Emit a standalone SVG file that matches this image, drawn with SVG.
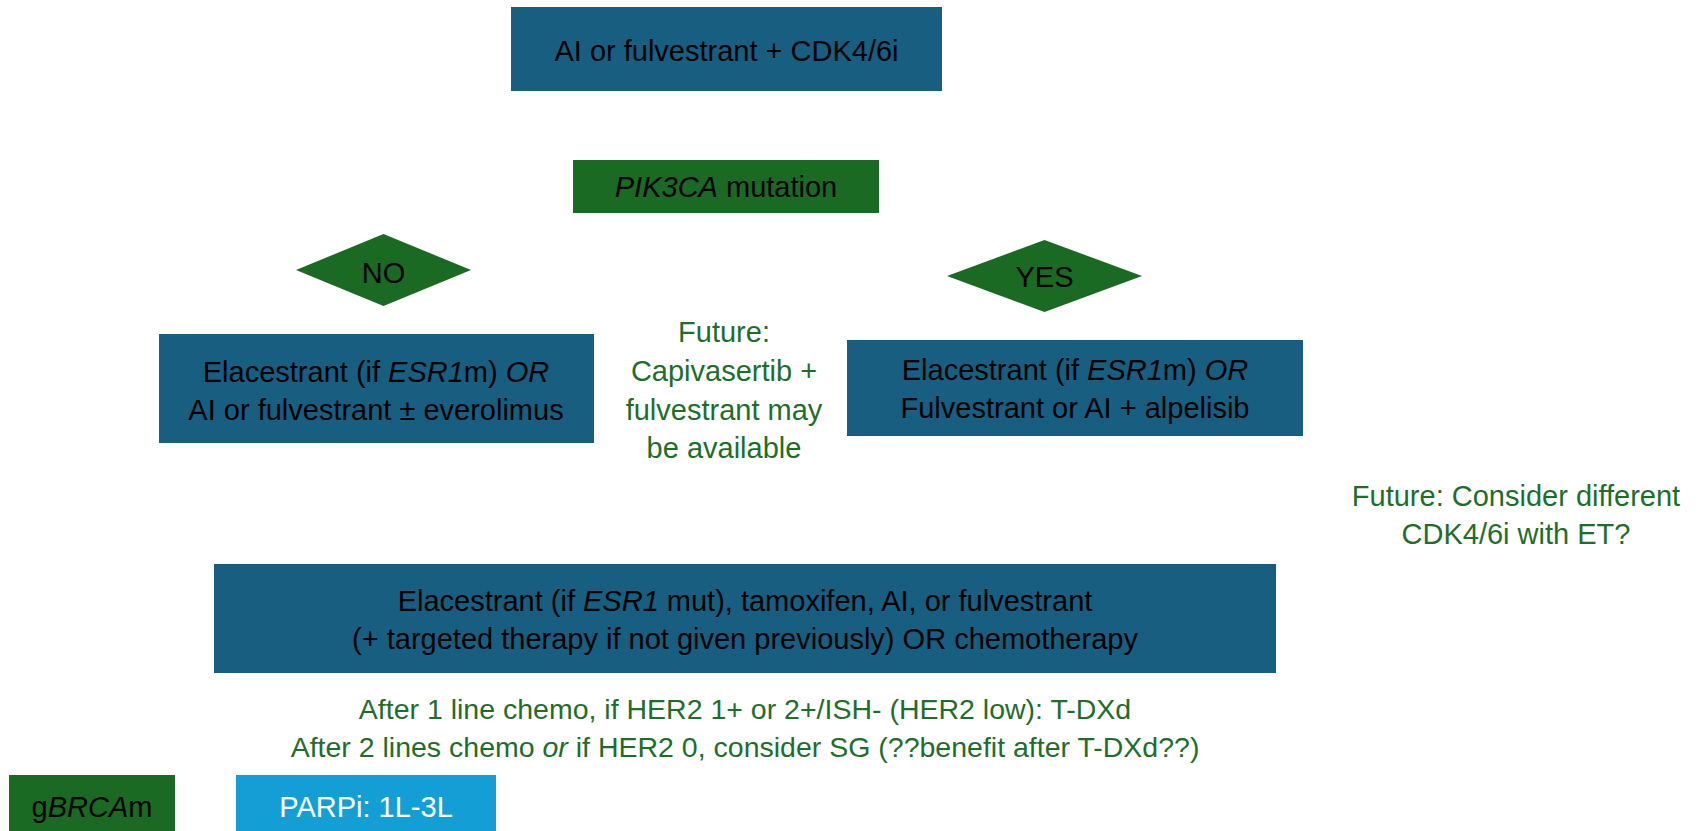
<svg xmlns="http://www.w3.org/2000/svg" width="1706" height="831" viewBox="0 0 1706 831">
  <style>
    text { font-family: "Liberation Sans", Arial, sans-serif; font-size: 29px; text-anchor: middle; }
    .box { fill: #175E80; }
    .dec { fill: #1B6A24; }
    .parp { fill: #139FD6; }
    .dark { fill: #000000; }
    .note { fill: #1E6E2A; }
    .small { font-size: 28.5px; }
    .light { fill: #FFFFFF; }
    .it { font-style: italic; }
    .tip { fill: #FFFFFF; }
  </style>

  <rect width="1706" height="831" fill="#FFFFFF"/>

  <!-- connectors: drawn in white, so only their ends show over the boxes -->
  <g id="connectors">
    <polygon class="tip" points="376,443 377,441 379,441 386,443"/>
    <polygon class="tip" points="1067,436 1071,433 1073,433 1074,436"/>
    <rect class="tip" x="171" y="802" width="4" height="6"/>
  </g>

  <g id="first-line">
    <rect class="box" x="511" y="7" width="431" height="84"/>
    <text class="dark" x="726.5" y="61">AI or fulvestrant + CDK4/6i</text>
  </g>

  <g id="pik3ca">
    <rect class="dec" x="573" y="160" width="306" height="53"/>
    <text class="dark" x="726" y="197"><tspan class="it">PIK3CA</tspan> mutation</text>
  </g>

  <g id="no">
    <polygon class="dec" points="296,270 383.5,234 471,270 383.5,306"/>
    <text class="dark" x="383.5" y="283">NO</text>
  </g>

  <g id="yes">
    <polygon class="dec" points="947,276 1044.5,240 1142,276 1044.5,312"/>
    <text class="dark" x="1044.5" y="287">YES</text>
  </g>

  <g id="no-treatment">
    <rect class="box" x="159" y="334" width="435" height="109"/>
    <text class="dark" x="376" y="382">Elacestrant (if <tspan class="it">ESR1</tspan>m) <tspan class="it">OR</tspan></text>
    <text class="dark" x="376" y="420">AI or fulvestrant ± everolimus</text>
  </g>

  <g id="capivasertib-note">
    <text class="note" x="724" y="342">Future:</text>
    <text class="note" x="724" y="381">Capivasertib +</text>
    <text class="note" x="724" y="420">fulvestrant may</text>
    <text class="note" x="724" y="458">be available</text>
  </g>

  <g id="yes-treatment">
    <rect class="box" x="847" y="340" width="456" height="96"/>
    <text class="dark" x="1075" y="380">Elacestrant (if <tspan class="it">ESR1</tspan>m) <tspan class="it">OR</tspan></text>
    <text class="dark" x="1075" y="418">Fulvestrant or AI + alpelisib</text>
  </g>

  <g id="cdk-note">
    <text class="note" x="1516" y="506">Future: Consider different</text>
    <text class="note" x="1516" y="544">CDK4/6i with ET?</text>
  </g>

  <g id="later-lines">
    <rect class="box" x="214" y="564" width="1062" height="109"/>
    <text class="dark" x="745" y="611">Elacestrant (if <tspan class="it">ESR1</tspan> mut), tamoxifen, AI, or fulvestrant</text>
    <text class="dark" x="745" y="649">(+ targeted therapy if not given previously) OR chemotherapy</text>
  </g>

  <g id="adc-note">
    <text class="note small" x="745" y="719">After 1 line chemo, if HER2 1+ or 2+/ISH- (HER2 low): T-DXd</text>
    <text class="note small" x="745" y="757">After 2 lines chemo <tspan class="it">or</tspan> if HER2 0, consider SG (??benefit after T-DXd??)</text>
  </g>

  <g id="gbrca">
    <rect class="dec" x="9" y="775" width="166" height="56"/>
    <text class="dark" x="92" y="817">g<tspan class="it">BRCA</tspan>m</text>
  </g>

  <g id="parpi">
    <rect class="parp" x="236" y="775" width="260" height="56"/>
    <text class="light" x="366" y="817">PARPi: 1L-3L</text>
  </g>
</svg>
